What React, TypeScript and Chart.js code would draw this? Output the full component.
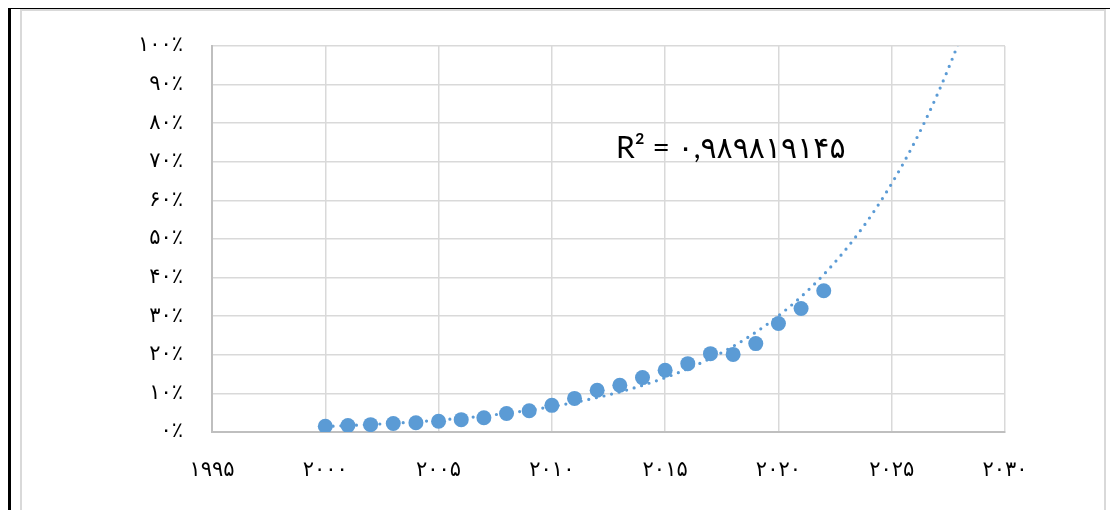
import React, { useEffect, useRef } from "react";
import { Chart, registerables } from "chart.js";

Chart.register(...registerables);

const years = [2000, 2001, 2002, 2003, 2004, 2005, 2006, 2007, 2008, 2009, 2010, 2011, 2012, 2013, 2014, 2015, 2016, 2017, 2018, 2019, 2020, 2021, 2022];
const shares = [0.015, 0.017, 0.019, 0.022, 0.024, 0.028, 0.032, 0.037, 0.048, 0.055, 0.069, 0.087, 0.108, 0.121, 0.141, 0.160, 0.177, 0.203, 0.201, 0.229, 0.281, 0.320, 0.366];
const xTickValues = [1995, 2000, 2005, 2010, 2015, 2020, 2025, 2030];
const yTickValues = [0, 0.1, 0.2, 0.3, 0.4, 0.5, 0.6, 0.7, 0.8, 0.9, 1.0];
const r2Label = "R² = ۰,۹۸۹۸۱۹۱۴۵";
const trendEnd = 2030;

const fa = (s: string) => s.replace(/\d/g, (d) => "۰۱۲۳۴۵۶۷۸۹"[+d]);

function expFit(xs: number[], ys: number[]) {
  const n = xs.length;
  const lx = xs.reduce((a, b) => a + b, 0) / n;
  const ly = ys.map((v) => Math.log(v));
  const my = ly.reduce((a, b) => a + b, 0) / n;
  let sxy = 0, sxx = 0;
  for (let i = 0; i < n; i++) {
    sxy += (xs[i] - lx) * (ly[i] - my);
    sxx += (xs[i] - lx) * (xs[i] - lx);
  }
  const b = sxy / sxx;
  return (x: number) => Math.exp(my + b * (x - lx));
}

export default function App() {
  const ref = useRef<HTMLCanvasElement | null>(null);
  useEffect(() => {
    if (!ref.current) return;
    const f = expFit(years, shares);
    const trend: { x: number; y: number }[] = [];
    for (let x = years[0]; x <= trendEnd + 1e-9; x += 0.1) trend.push({ x, y: f(x) });
    const chart = new Chart(ref.current, {
      type: "scatter",
      data: {
        datasets: [
          {
            label: "share",
            data: years.map((x, i) => ({ x, y: shares[i] })),
            backgroundColor: "#5b9bd5",
            borderWidth: 0,
            pointRadius: 7.5,
            pointHoverRadius: 7.5,
            order: 1,
          },
          {
            label: "trend",
            type: "line",
            data: trend,
            borderColor: "#5b9bd5",
            borderWidth: 3.2,
            borderDash: [0, 7.8],
            borderCapStyle: "round",
            pointRadius: 0,
            showLine: true,
            fill: false,
            tension: 0,
            order: 2,
          } as any,
        ],
      },
      options: {
        animation: false,
        responsive: false,
        layout: { padding: { left: 0, top: 46, right: 105, bottom: 0 } },
        plugins: { legend: { display: false }, tooltip: { enabled: false } },
        scales: {
          x: {
            type: "linear",
            min: 1995,
            max: 2030,
            afterBuildTicks: (s: any) => {
              s.ticks = xTickValues.map((v) => ({ value: v }));
            },
            afterFit: (s: any) => {
              s.height = 78;
            },
            grid: { color: "#d9d9d9", lineWidth: 1.5, drawTicks: false },
            border: { color: "#bfbfbf", width: 2 },
            ticks: {
              padding: 26,
              color: "#000",
              font: { family: "'DejaVu Sans', sans-serif", size: 21 },
              callback: (v: any) => fa(String(v)),
            },
          },
          y: {
            type: "linear",
            min: 0,
            max: 1,
            afterBuildTicks: (s: any) => {
              s.ticks = yTickValues.map((v) => ({ value: v }));
            },
            afterFit: (s: any) => {
              s.width = 212;
            },
            grid: { color: "#d9d9d9", lineWidth: 1.5, drawTicks: false },
            border: { color: "#bfbfbf", width: 2 },
            ticks: {
              padding: 29,
              color: "#000",
              font: { family: "'DejaVu Sans', sans-serif", size: 21 },
              callback: (v: any) => fa(String(Math.round(Number(v) * 100))) + "٪",
            },
          },
        },
      },
    });
    return () => chart.destroy();
  }, []);

  return (
    <div style={{ position: "fixed", left: 0, top: 0, width: 1110, height: 510, overflow: "hidden", background: "#fff" }}>
      <div style={{ position: "absolute", left: 8, top: 8, width: 1120, height: 600, borderLeft: "3px solid #000", borderTop: "1px solid #000" }} />
      <div style={{ position: "absolute", left: 20, top: 9, width: 1082, height: 600, borderLeft: "2px solid #d9d9d9", borderTop: "2px solid #d9d9d9", borderRight: "2px solid #d9d9d9" }} />
      <canvas ref={ref} width={1110} height={510} style={{ position: "absolute", left: 0, top: 0 }} />
      <div style={{ position: "absolute", left: 616, top: 127, fontFamily: "Lato, 'DejaVu Sans', sans-serif", fontSize: 30, color: "#000", whiteSpace: "nowrap", lineHeight: "38px" }}>
        {r2Label}
      </div>
    </div>
  );
}
